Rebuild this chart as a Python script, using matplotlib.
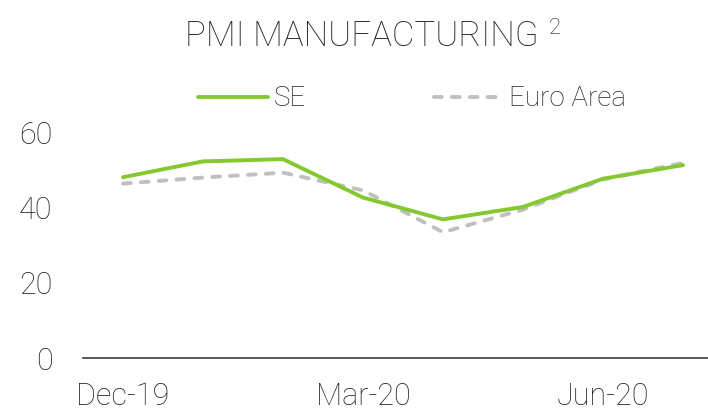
import matplotlib.pyplot as plt

plt.rcParams['font.family'] = ['Roboto', 'DejaVu Sans']

# monthly PMI readings, Dec-19 .. Jul-20
months = ['Dec-19', 'Jan-20', 'Feb-20', 'Mar-20', 'Apr-20', 'May-20', 'Jun-20', 'Jul-20']
se = [48.0, 52.2, 52.8, 42.6, 36.8, 40.1, 47.6, 51.2]
euro_area = [46.3, 47.9, 49.2, 44.5, 33.4, 39.4, 47.4, 51.8]
yticks = [0, 20, 40, 60]
shown_months = ['Dec-19', 'Mar-20', 'Jun-20']

green = '#84C92F'
grey = '#C0C0C0'
txt = '#262626'

fig = plt.figure(figsize=(7.08, 4.16), dpi=100)
ax = fig.add_axes([83 / 708, 1 - 358 / 416, 640 / 708, (358 - 132) / 416])

x = list(range(len(months)))
ax.plot(x, se, color=green, lw=2.8, label='SE', solid_capstyle='round', zorder=3)
ax.plot(x, euro_area, color=grey, lw=2.8, ls=(0, (2.0, 2.6)), dash_capstyle='round',
        label='Euro Area', zorder=2)

ax.set_xlim(-0.5, len(months) - 0.5)
ax.set_ylim(0, 60)
ax.set_yticks(yticks)
ax.set_yticklabels([str(v) for v in yticks])
ax.set_xticks([months.index(m) for m in shown_months])
ax.set_xticklabels(shown_months)

for s in ['top', 'right', 'left']:
    ax.spines[s].set_visible(False)
ax.spines['bottom'].set_color('#3a3a3a')
ax.spines['bottom'].set_linewidth(1.2)
ax.tick_params(axis='both', length=0, labelsize=22, labelcolor=txt)
ax.tick_params(axis='y', pad=22)
ax.tick_params(axis='x', pad=17)
for lab in ax.get_xticklabels() + ax.get_yticklabels():
    lab.set_fontweight('light')

# title with a separate raised footnote marker
fig.text(362 / 708, 1 - 36 / 416, 'PMI MANUFACTURING', ha='center', va='center',
         fontsize=25, color=txt, fontweight='light')
fig.text(549 / 708, 1 - 18 / 416, '2', ha='left', va='top',
         fontsize=16, color=txt, fontweight='light')

leg = fig.legend(loc='center', bbox_to_anchor=(412 / 708, 1 - 99 / 416), ncol=2,
                 frameon=False, fontsize=20, handlelength=2.5, handletextpad=0.2,
                 columnspacing=4.6, borderpad=0)
for t in leg.get_texts():
    t.set_color(txt)
    t.set_fontweight('light')

fig.savefig('out.png', dpi=100)
